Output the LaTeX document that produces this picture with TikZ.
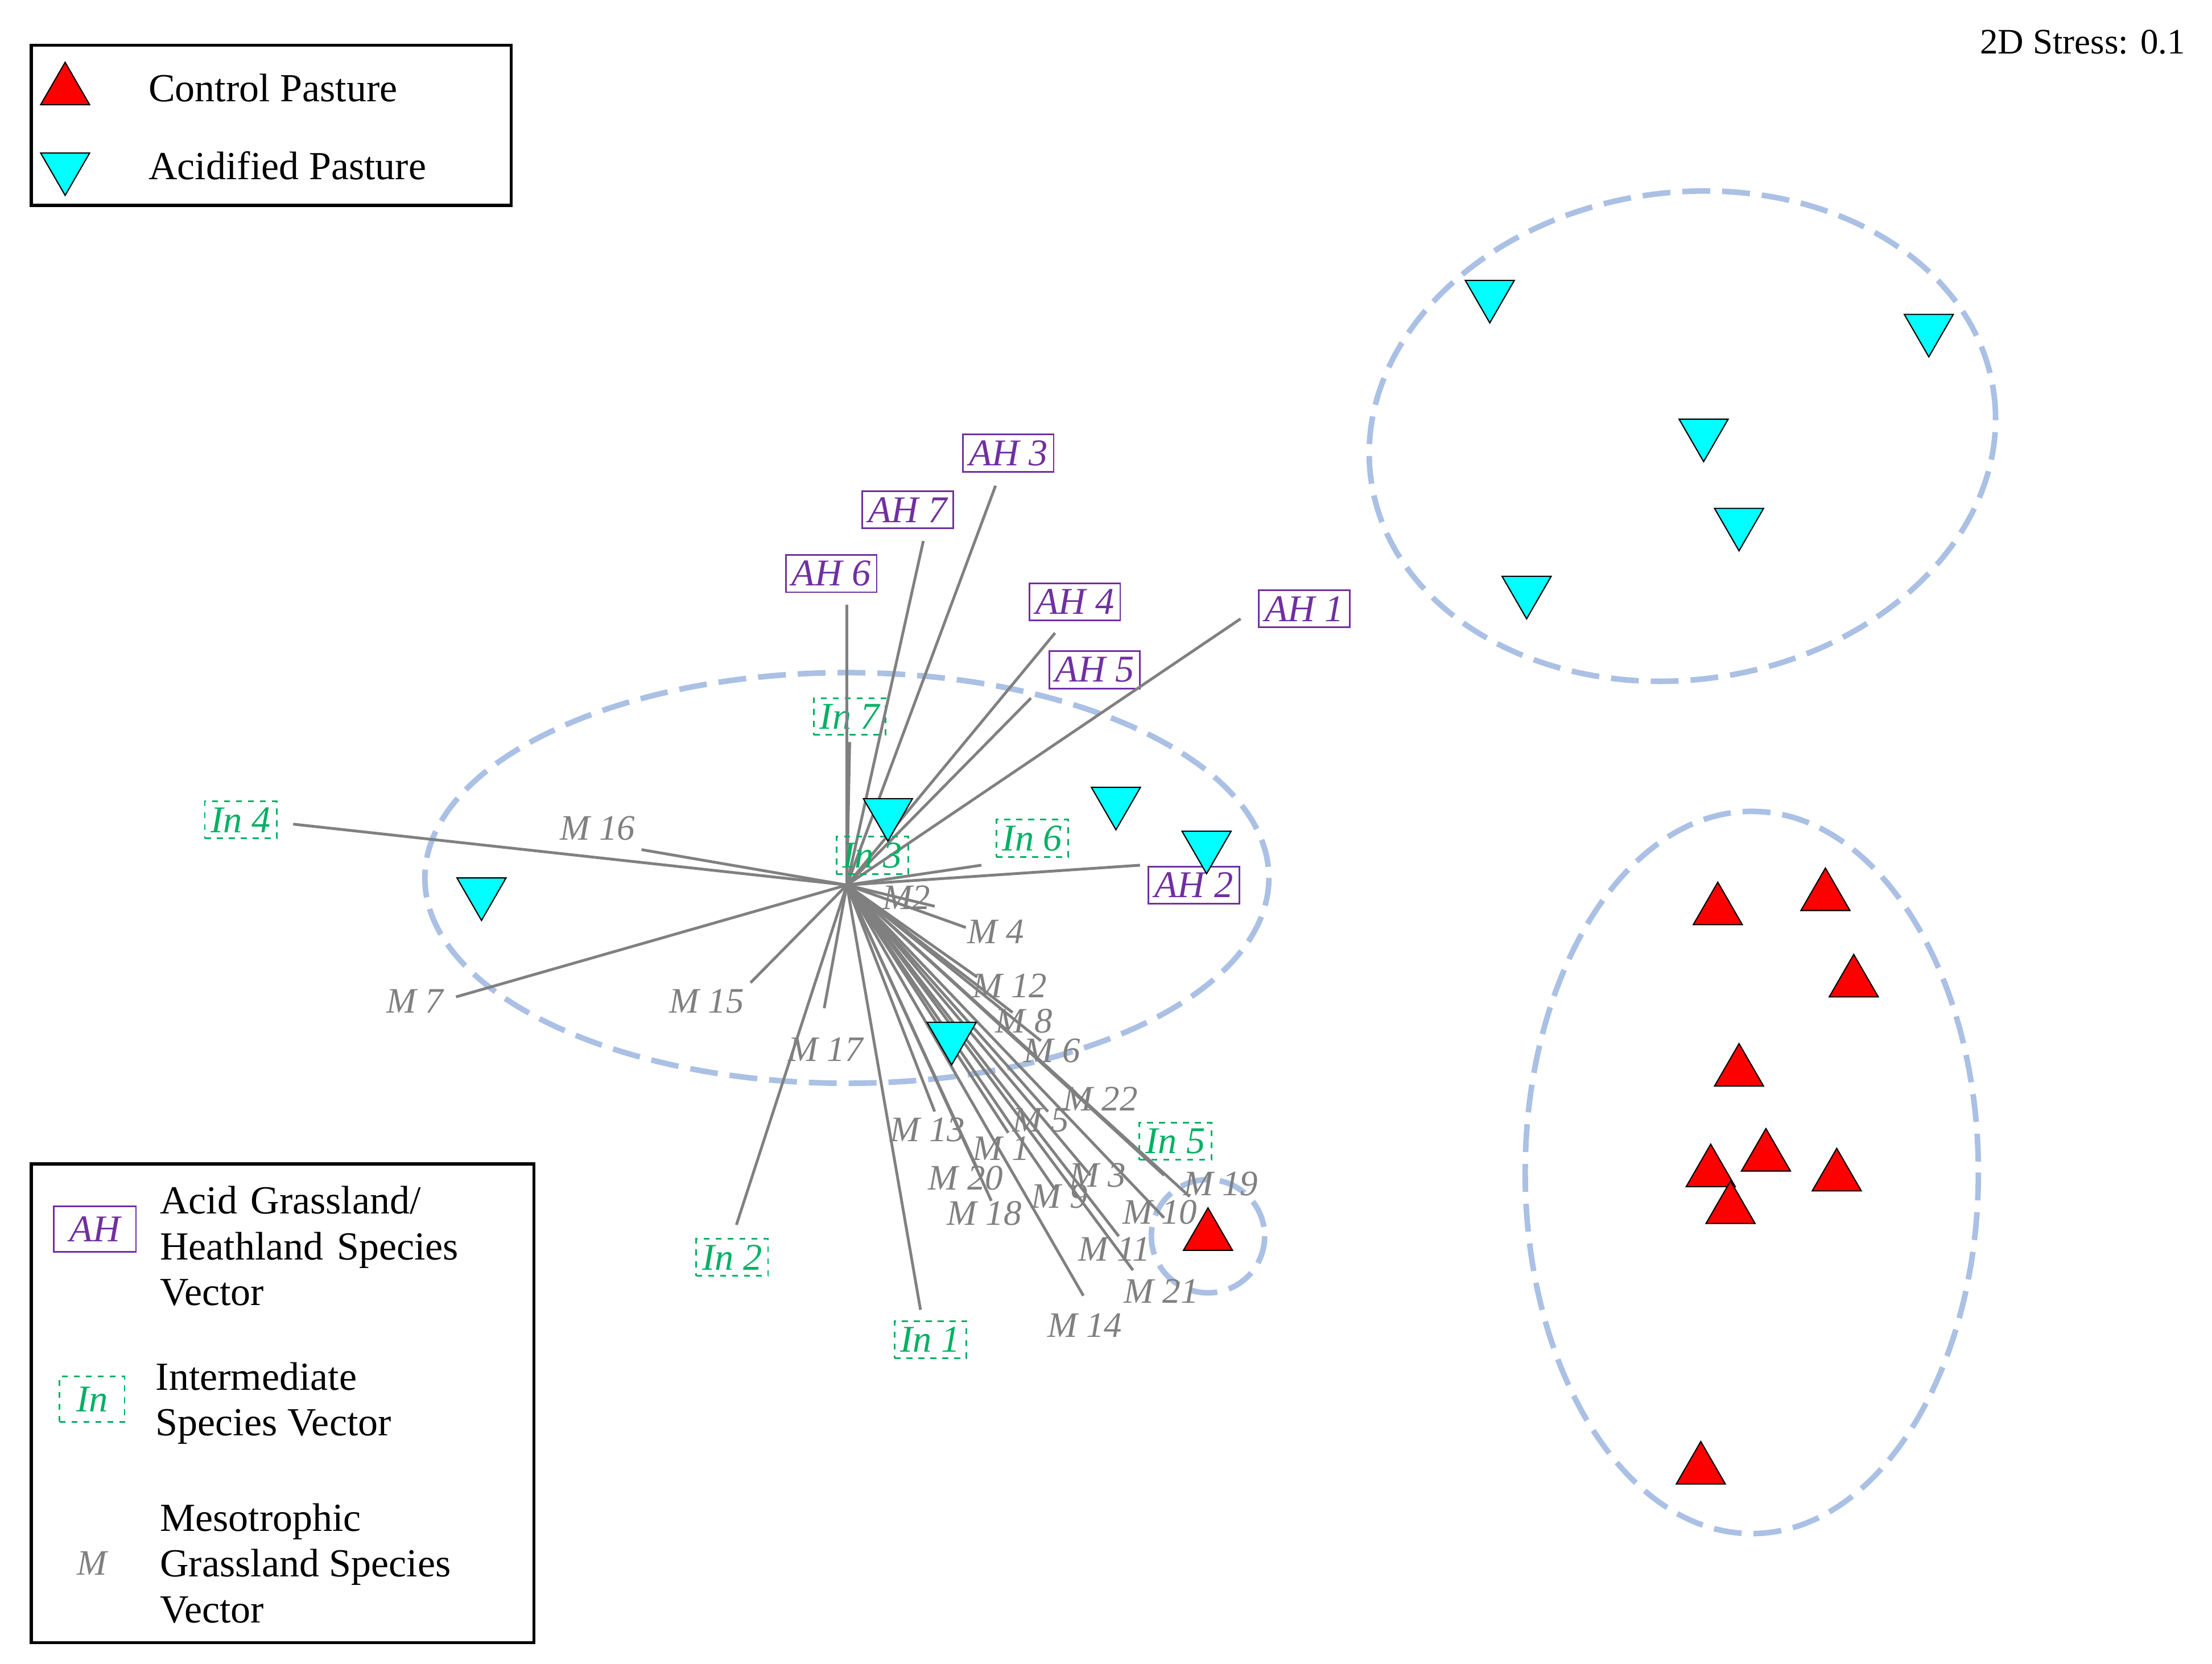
\documentclass[tikz,border=0pt]{standalone}
\usepackage{fontspec}
\setmainfont{Liberation Serif}
\usetikzlibrary{shapes.geometric}
\definecolor{grpc}{RGB}{170,192,228}
\definecolor{ahc}{RGB}{112,48,160}
\definecolor{inc}{RGB}{0,176,100}
\definecolor{cyn}{RGB}{0,255,255}
\begin{document}
\begin{tikzpicture}[x=0.025cm,y=-0.025cm,
 vec/.style={draw=black!50,line width=1.4pt},
 ah/.style={draw=ahc,text=ahc,font=\fontsize{19}{21}\selectfont\itshape,inner sep=3pt,line width=0.8pt},
 inn/.style={draw=inc,text=inc,dashed,font=\fontsize{19}{21}\selectfont\itshape,inner sep=3pt,line width=0.8pt},
 mm/.style={text=black!50,font=\fontsize{18}{20}\selectfont\itshape,inner sep=1pt},
 grp/.style={draw=grpc,dash pattern=on 14pt off 6pt,line width=2.8pt},
 up/.style={regular polygon,regular polygon sides=3,draw=black,fill=red,minimum size=1.0cm,inner sep=0pt,line width=0.6pt},
 dn/.style={up,fill=cyn,shape border rotate=180},
 leg/.style={font=\fontsize{20}{23}\selectfont,anchor=west,align=left}]
\useasboundingbox (0,0) rectangle (1562,1175);
\draw[grp] (598,620) ellipse (298 and 145);
\draw[grp,rotate around={8:(1188,308)}] (1188,308) ellipse (222 and 172);
\draw[grp] (1237,828) ellipse (160 and 255);
\draw[grp] (853,873) circle (40);
\coordinate (c) at (598,625);
\node[ah] (ah3) at (712,320) {AH 3};
\node[ah] (ah7) at (641,360) {AH 7};
\node[ah] (ah6) at (587,405) {AH 6};
\node[ah] (ah4) at (759,425) {AH 4};
\node[ah] (ah5) at (773,473) {AH 5};
\node[ah] (ah1) at (921,430) {AH 1};
\node[ah] (ah2) at (843,625) {AH 2};
\node[inn] (in7) at (600,506) {In 7};
\node[inn] (in6) at (729,592) {In 6};
\node[inn] (in4) at (170,579) {In 4};
\node[inn] (in2) at (517,888) {In 2};
\node[inn] (in1) at (657,946) {In 1};
\node[inn] (in5) at (830,806) {In 5};
\node[mm] (m16) at (422,585) {M 16};
\node[mm] (m7) at (293,707) {M 7};
\node[mm] (m15) at (499,707) {M 15};
\node[mm] (m17) at (583,741) {M 17};
\node[mm] (m14) at (766,936) {M 14};
\node[mm] (m21) at (820,912) {M 21};
\node[mm] (m11) at (787,882) {M 11};
\node[mm] (m10) at (819,856) {M 10};
\node[mm] (m19) at (862,836) {M 19};
\node[mm] (m3) at (775,830) {M 3};
\node[mm] (m9) at (748,845) {M 9};
\node[mm] (m18) at (695,857) {M 18};
\node[mm] (m20) at (682,832) {M 20};
\node[mm] (m13) at (655,798) {M 13};
\node[mm] (m1) at (707,811) {M 1};
\node[mm] (m5) at (735,791) {M 5};
\node[mm] (m22) at (777,776) {M 22};
\node[mm] (m6) at (743,742) {M 6};
\node[mm] (m8) at (723,721) {M 8};
\node[mm] (m12) at (713,696) {M 12};
\node[mm] (m4) at (703,658) {M 4};
\node[mm] (m2) at (640,634) {M2};
\foreach \e in {(703,343),(652,382),(598,427),(745,447),(728,493),(876,437),(805,611),(600,524),(693,611),(207,582),(453,600),(322,704),(530,694),(582,712),(520,865),(650,925),(765,915),(800,897),(790,873),(822,860),(840,845),(822,830),(770,830),(745,840),(700,848),(690,825),(660,785),(712,800),(740,785),(760,772),(735,735),(715,715),(690,690),(682,655),(660,640)}
  \draw[vec] (c) -- \e;
\node[inn] (in3) at (616,604) {In 3};
\foreach \p in {(1052,208),(1362,232),(1203,306),(1228,369),(1078,417),(627,574),(788,566),(852,597),(340,630),(672,732)}
  \node[dn] at \p {};
\foreach \p in {(1213,643),(1289,633),(1309,694),(1228,757),(1208,828),(1247,817),(1297,831),(1222,854),(1201,1038),(853,873)}
  \node[up] at \p {};
\node[font=\fontsize{18}{20}\selectfont,anchor=north east] (st) at (1548,16) {2D Stress: 0.1};
\draw[line width=1.6pt] (22,32) rectangle (361,145);
\node[up] (lc) at (46,64) {};
\node[dn] (la) at (46,118) {};
\node[leg] at (100,62) {Control Pasture};
\node[leg] at (100,117) {Acidified Pasture};
\draw[line width=1.6pt] (22,822) rectangle (377,1160);
\node[ah,minimum width=1.45cm,minimum height=0.8cm] (lah) at (67,868) {AH};
\node[leg,text width=6cm] at (108,880) {Acid Grassland/\\Heathland Species\\Vector};
\node[inn,minimum width=1.15cm,minimum height=0.8cm] (lin) at (65,988) {In};
\node[leg] at (105,991) {Intermediate\\Species Vector};
\node[mm] (lm) at (65,1104) {M};
\node[leg] at (108,1104) {Mesotrophic\\Grassland Species\\Vector};
\end{tikzpicture}
\end{document}
